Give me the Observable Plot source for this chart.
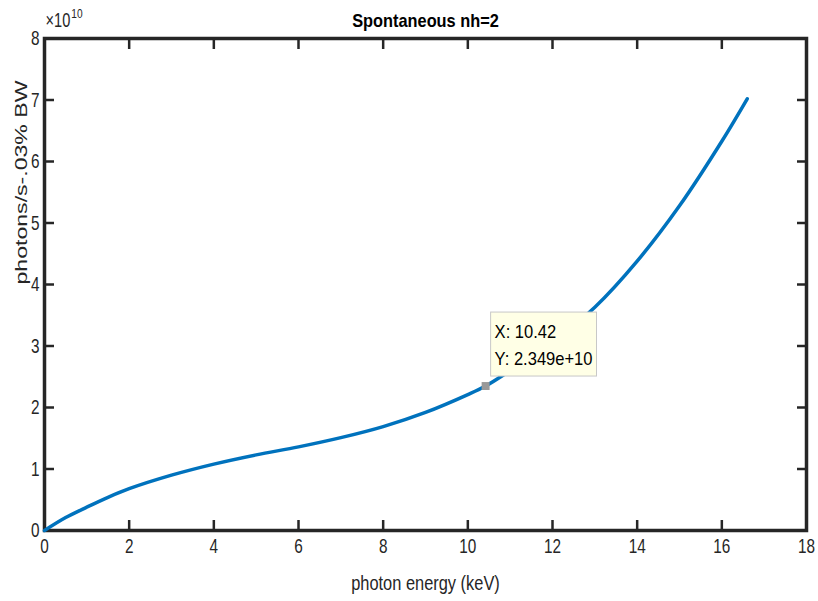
<!DOCTYPE html>
<html>
<head>
<meta charset="utf-8">
<script src="https://cdn.jsdelivr.net/npm/d3@7"></script>
<script src="https://cdn.jsdelivr.net/npm/@observablehq/plot@0.6"></script>
<style>
  html, body { margin: 0; padding: 0; background: #fff; }
  #chart svg { display: block; }
</style>
</head>
<body>
<div id="chart"></div>
<script>
// photon energy (keV)
const energy = [0, 0.5, 1, 1.5, 2, 3, 4, 5, 6, 7, 8, 9, 10, 10.42, 11, 12, 13, 14, 15, 16, 16.6];
// photons/s-.03% BW, in units of 1e10
const fluxE10 = [0, 0.21, 0.38, 0.54, 0.68, 0.90, 1.08, 1.23, 1.36, 1.51, 1.69, 1.92, 2.21, 2.349, 2.60, 3.06, 3.63, 4.38, 5.28, 6.33, 7.02];
const xTicks = [0, 2, 4, 6, 8, 10, 12, 14, 16, 18];
const yTicks = [0, 1, 2, 3, 4, 5, 6, 7, 8];
const tipPoint = [{x: 10.42, y: 2.349, label: "X: 10.42\nY: 2.349e+10"}];
const title = "Spontaneous nh=2";
const xLabel = "photon energy (keV)";
const yLabel = "photons/s-.03% BW";
const expBase = "×10";
const expPower = "10";

const data = energy.map((e, i) => ({e, f: fluxE10[i]}));
const font = "'Liberation Sans', Arial, sans-serif";
const axisColor = "#262626";

const chart = Plot.plot({
  width: 818,
  height: 601,
  marginLeft: 44,
  marginRight: 12,
  marginTop: 38,
  marginBottom: 71,
  style: {fontFamily: font, color: axisColor, background: "#fff"},
  x: {domain: [0, 18]},
  y: {domain: [0, 8]},
  marks: [
    Plot.frame({stroke: axisColor, strokeWidth: 3.5}),
    // tick marks pointing inward on all four sides
    Plot.axisX(xTicks, {anchor: "bottom", tickSize: -10, strokeWidth: 2.5, tickFormat: () => "", label: null}),
    Plot.axisX(xTicks, {anchor: "top", tickSize: -10, strokeWidth: 2.5, tickFormat: () => "", label: null}),
    Plot.axisY(yTicks, {anchor: "left", tickSize: -10, strokeWidth: 2.5, tickFormat: () => "", label: null}),
    Plot.axisY(yTicks, {anchor: "right", tickSize: -10, strokeWidth: 2.5, tickFormat: () => "", label: null}),
    // tick labels
    Plot.axisX(xTicks, {anchor: "bottom", tickSize: 0, tickPadding: 8, fontSize: 21, tickFormat: d => String(d), label: null}),
    Plot.axisY(yTicks, {anchor: "left", tickSize: 0, tickPadding: 5, fontSize: 21, tickFormat: d => String(d), label: null}),
    // curve
    Plot.line(data, {x: "e", y: "f", stroke: "#0072BD", strokeWidth: 3.5, curve: "catmull-rom"}),
    // data tip
    Plot.dot(tipPoint, {x: "x", y: "y", symbol: "square", fill: "#999", r: 4.5}),
    Plot.text(tipPoint, {x: "x", y: "y", text: "label", textAnchor: "start", lineAnchor: "bottom",
      dx: 9, dy: -21, fontSize: 19, lineHeight: 1.42, fill: "#000"}),
    // texts
    Plot.text([title], {frameAnchor: "top", dy: -18, fontSize: 19, fontWeight: "bold", fill: "#000", lineAnchor: "middle"}),
    Plot.text([xLabel], {frameAnchor: "bottom", dy: 53, fontSize: 20, lineAnchor: "middle", fill: axisColor}),
    Plot.text([yLabel], {frameAnchor: "left", dx: -23, rotate: -90, fontSize: 16, lineAnchor: "middle", fill: axisColor}),
    Plot.text([expBase], {frameAnchor: "top-left", dx: 1, dy: -18, fontSize: 20, textAnchor: "start", lineAnchor: "middle", fill: axisColor})
  ]
});

document.getElementById("chart").appendChild(chart);

const svg = d3.select(chart);
// condensed look of the reference's font
const squeeze = (el, k) => {
  const len = el.getComputedTextLength();
  if (len > 0) {
    el.setAttribute("textLength", (len * k).toFixed(2));
    el.setAttribute("lengthAdjust", "spacingAndGlyphs");
  }
};
svg.selectAll("text").each(function() {
  const t = this.textContent;
  if (t === yLabel) {
    this.setAttribute("textLength", 204);
    this.setAttribute("lengthAdjust", "spacingAndGlyphs");
    return;
  }
  if (t === expBase) {
    // build "×10" + superscript "10" in one text element
    this.textContent = "";
    const NS = "http://www.w3.org/2000/svg";
    const base = document.createElementNS(NS, "tspan");
    base.textContent = expBase;
    this.appendChild(base);
    squeeze(base, 0.73);
    const sup = document.createElementNS(NS, "tspan");
    sup.textContent = expPower;
    sup.setAttribute("font-size", 13);
    sup.setAttribute("dx", 1);
    sup.setAttribute("dy", -9);
    this.appendChild(sup);
    squeeze(sup, 0.78);
    return;
  }
  const spans = this.querySelectorAll("tspan");
  if (spans.length) {
    spans.forEach(s => squeeze(s, 0.87));
  } else if (/^\d+$/.test(t)) {
    squeeze(this, 0.73);
  } else if (t === xLabel) {
    squeeze(this, 0.82);
  } else {
    squeeze(this, 0.86);
  }
});

// background box behind the data tip text
svg.selectAll("text").filter(function() { return this.textContent.startsWith("X: "); })
  .each(function() {
    const bb = this.getBBox();
    const tr = this.getAttribute("transform");
    const r = document.createElementNS("http://www.w3.org/2000/svg", "rect");
    r.setAttribute("x", bb.x - 4);
    r.setAttribute("y", bb.y - 9);
    r.setAttribute("width", bb.width + 8);
    r.setAttribute("height", bb.height + 16);
    r.setAttribute("fill", "#FFFFE6");
    r.setAttribute("stroke", "#C8C8C8");
    r.setAttribute("stroke-width", 1);
    if (tr) r.setAttribute("transform", tr);
    this.parentNode.insertBefore(r, this);
  });
</script>
</body>
</html>
